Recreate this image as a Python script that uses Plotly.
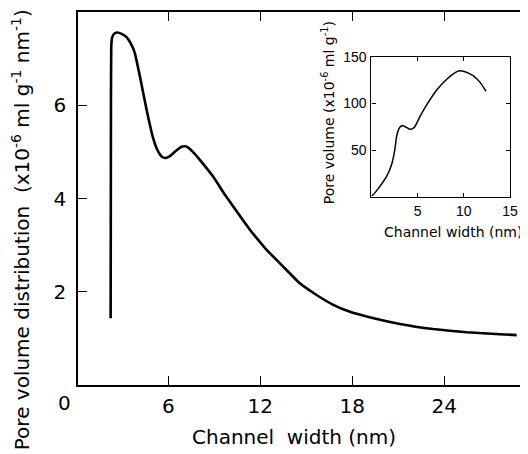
import plotly.graph_objects as go

# Main curve: pore volume distribution vs channel width
main_width = [2.23, 2.24, 2.25, 2.27, 2.32, 2.45, 2.66, 2.95, 3.27, 3.55, 3.81, 4.14, 4.58,
              5.0, 5.25, 5.44, 5.6, 5.77, 6.05, 6.31, 6.6, 6.86, 7.1, 7.29, 7.6, 8.05, 8.92,
              9.69, 10.23, 11.32, 12.41, 13.49, 14.58, 15.67, 16.76, 17.85, 18.94, 21.11,
              23.28, 25.46, 27.64, 28.73]
main_dist = [1.43, 3.5, 6.0, 7.25, 7.44, 7.53, 7.56, 7.53, 7.46, 7.32, 7.12, 6.62, 5.9,
             5.3, 5.06, 4.95, 4.89, 4.87, 4.90, 4.97, 5.05, 5.11, 5.12, 5.09, 5.0, 4.83, 4.47,
             4.08, 3.83, 3.33, 2.9, 2.54, 2.18, 1.93, 1.72, 1.57, 1.47, 1.31, 1.2, 1.13,
             1.09, 1.07]

# Inset: cumulative pore volume vs channel width
inset_width = [0.0, 0.17, 0.9, 1.63, 2.17, 2.53, 2.72, 2.9, 3.08, 3.3, 3.5, 3.85, 4.16,
               4.45, 4.7, 5.25, 5.98, 7.07, 8.15, 8.9, 9.52, 9.96, 10.5, 11.04, 11.8, 12.4]
inset_vol = [0.8, 1.8, 10.7, 21.4, 34, 50, 64, 71, 74.4, 76, 75.8, 74, 72.2, 73, 75,
             85.7, 98.3, 114.4, 125.8, 132, 135, 134.5, 132.5, 129.4, 122, 113]

main_xticks = [6, 12, 18, 24]
main_yticks = [2, 4, 6]
inset_xticks = [5, 10, 15]
inset_yticks = [50, 100, 150]

FONT = "DejaVu Sans, Verdana, sans-serif"
INSET_FONT = "Liberation Sans, Arial, sans-serif"

fig = go.Figure()
fig.add_trace(go.Scatter(x=main_width, y=main_dist, mode="lines",
                         line=dict(color="black", width=2.6, shape="spline", smoothing=0.3),
                         xaxis="x", yaxis="y", showlegend=False, hoverinfo="skip"))
# transparent copy so the right-hand tick axis is drawn
fig.add_trace(go.Scatter(x=main_width, y=main_dist, mode="lines", opacity=0,
                         line=dict(width=0), xaxis="x", yaxis="y3",
                         showlegend=False, hoverinfo="skip"))
fig.add_trace(go.Scatter(x=inset_width, y=inset_vol, mode="lines",
                         line=dict(color="black", width=1.5, shape="spline", smoothing=0.6),
                         xaxis="x2", yaxis="y2", showlegend=False, hoverinfo="skip"))

axis_common = dict(showgrid=False, zeroline=False, showline=True, linecolor="black",
                   ticks="inside", tickcolor="black", automargin=False)

# page body has an 8px margin, so the figure is 8px smaller than the window
fig.update_layout(
    width=520, height=446,
    margin=dict(l=70, r=0, t=4, b=69),
    paper_bgcolor="white", plot_bgcolor="white",
    font=dict(family=FONT, color="black"),
    xaxis=dict(**axis_common, range=[0.1, 29.47], tickvals=main_xticks,
               mirror="ticks", linewidth=1.5, ticklen=9, tickwidth=1.3,
               tickfont=dict(size=20), ticklabelstandoff=2),
    yaxis=dict(**axis_common, range=[0, 8], tickvals=main_yticks,
               linewidth=1.5, ticklen=9, tickwidth=1.3,
               tickfont=dict(size=20), ticklabelstandoff=6),
    yaxis3=dict(showgrid=False, zeroline=False, showline=True, linecolor="rgba(0,0,0,0)",
                overlaying="y", side="right", anchor="x", range=[0, 8],
                tickvals=main_yticks, ticks="inside", ticklen=6,
                tickcolor="black", tickwidth=1.3, showticklabels=False, automargin=False),
    xaxis2=dict(**axis_common, domain=[0.652, 0.96], anchor="y2", range=[0, 15],
                tickvals=inset_xticks, mirror="ticks", linewidth=1.2, ticklen=4,
                tickwidth=1, tickfont=dict(size=14, family=INSET_FONT), ticklabelstandoff=1),
    yaxis2=dict(**axis_common, domain=[0.505, 0.88], anchor="x2", range=[0, 150],
                tickvals=inset_yticks, mirror="ticks", linewidth=1.2, ticklen=4,
                tickwidth=1, tickfont=dict(size=14, family=INSET_FONT), ticklabelstandoff=1),
    annotations=[
        dict(text="Pore volume distribution&nbsp;&nbsp;(x10<sup>-6</sup> ml g<sup>-1</sup> nm<sup>-1</sup>)",
             xref="paper", yref="paper", x=-0.128, y=0.416, textangle=-90,
             showarrow=False, font=dict(size=20), xanchor="center", yanchor="middle"),
        dict(text="Channel&nbsp;&nbsp;width (nm)", xref="paper", yref="paper",
             x=0.48, y=-0.139, showarrow=False, font=dict(size=20),
             xanchor="center", yanchor="middle"),
        dict(text="0", xref="paper", yref="paper", x=-0.0289, y=-0.048,
             showarrow=False, font=dict(size=20), xanchor="center", yanchor="middle"),
        dict(text="Pore volume (x10<sup>-6</sup> ml g<sup>-1</sup>)",
             xref="paper", yref="paper", x=0.556, y=0.729, textangle=-90,
             showarrow=False, font=dict(size=14), xanchor="center", yanchor="middle"),
        dict(text="Channel width (nm)", xref="paper", yref="paper", x=0.833, y=0.41,
             showarrow=False, font=dict(size=14), xanchor="center", yanchor="middle"),
    ],
)

fig.write_html("out.html")
